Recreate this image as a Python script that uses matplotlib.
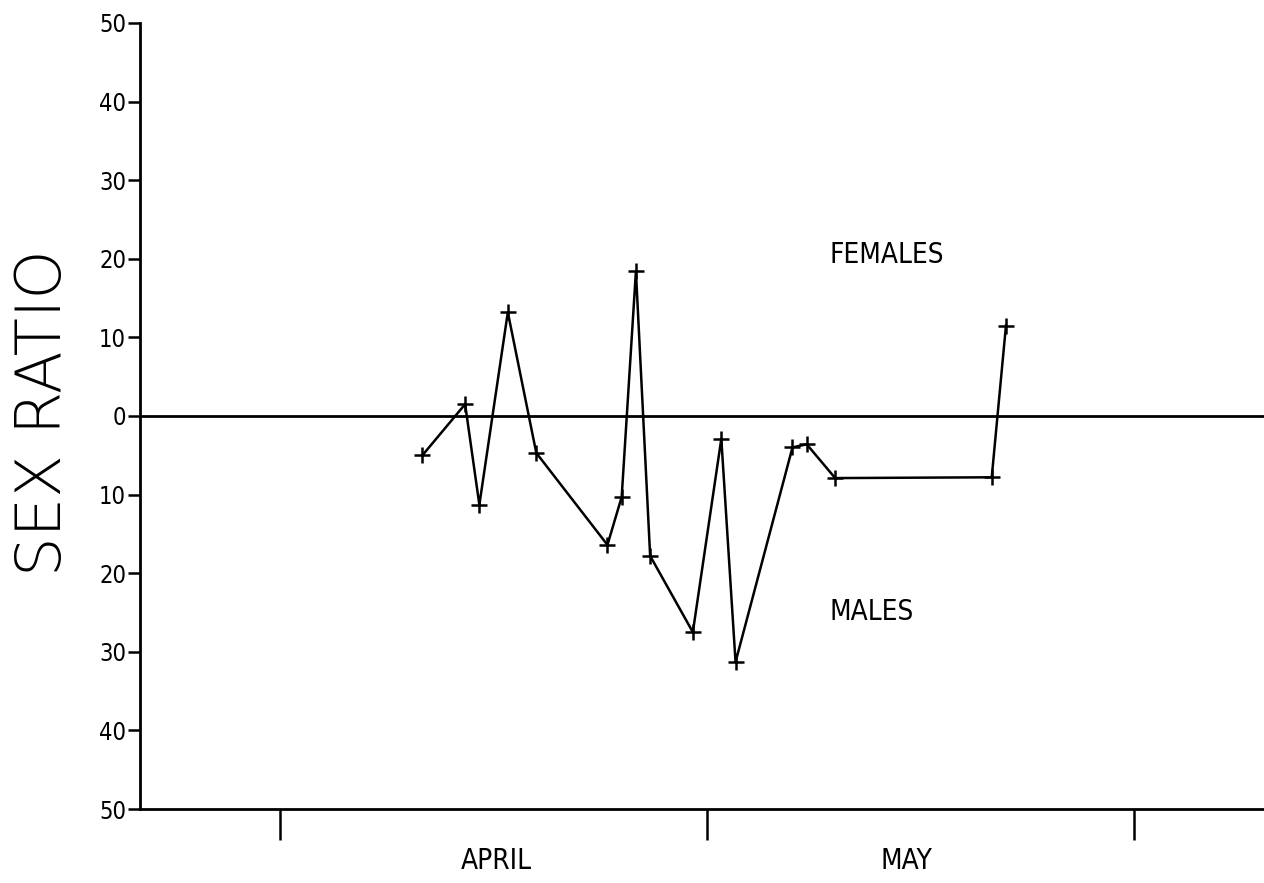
import matplotlib.pyplot as plt

# days counted from 1 April, sex ratio (+ = females, - = males)
days = [10, 13, 14, 16, 18, 23, 24, 25, 26, 29, 31, 32, 36, 37, 39, 50, 51]
ratio = [-5.0, 1.5, -11.3, 13.2, -4.7, -16.4, -10.3, 18.4, -17.8,
         -27.5, -2.9, -31.3, -4.0, -3.6, -7.9, -7.8, 11.5]

y_ticks = [-50, -40, -30, -20, -10, 0, 10, 20, 30, 40, 50]
y_labels = [str(abs(v)) for v in y_ticks]
month_ticks = [0, 30, 60]
months = ['APRIL', 'MAY']
month_mid = [15.2, 44.0]

plt.rcParams['font.family'] = ['DejaVu Sans']

fig = plt.figure(figsize=(12.64, 8.83), dpi=100)
ax = fig.add_axes([0.1108, 0.0838, 0.8892, 0.8902])

ax.plot(days, ratio, color='black', lw=1.8, marker='+', ms=11, mew=1.8)
ax.axhline(0, color='black', lw=2)

ax.set_xlim(-9.84, 69.13)
ax.set_ylim(-50, 50)

ax.set_yticks(y_ticks)
ax.set_yticklabels(y_labels, fontsize=17, fontstretch='condensed')
ax.set_xticks(month_ticks)
ax.set_xticklabels([])
ax.tick_params(axis='y', direction='out', length=9, width=1.8, pad=1)
ax.tick_params(axis='x', direction='out', length=22, width=1.8)

for s in ['top', 'right']:
    ax.spines[s].set_visible(False)
for s in ['left', 'bottom']:
    ax.spines[s].set_linewidth(2)

for m, x in zip(months, month_mid):
    ax.text(x, -56.6, m, ha='center', va='center', fontsize=20,
            fontstretch='condensed', clip_on=False)

ax.text(38.6, 20.5, 'FEMALES', ha='left', va='center', fontsize=20,
        fontstretch='condensed')
ax.text(38.6, -24.9, 'MALES', ha='left', va='center', fontsize=20,
        fontstretch='condensed')

fig.text(0.035, 0.533, 'SEX RATIO', rotation=90, ha='center', va='center',
         fontsize=45, fontweight='light')

fig.savefig('out.png', dpi=100)
